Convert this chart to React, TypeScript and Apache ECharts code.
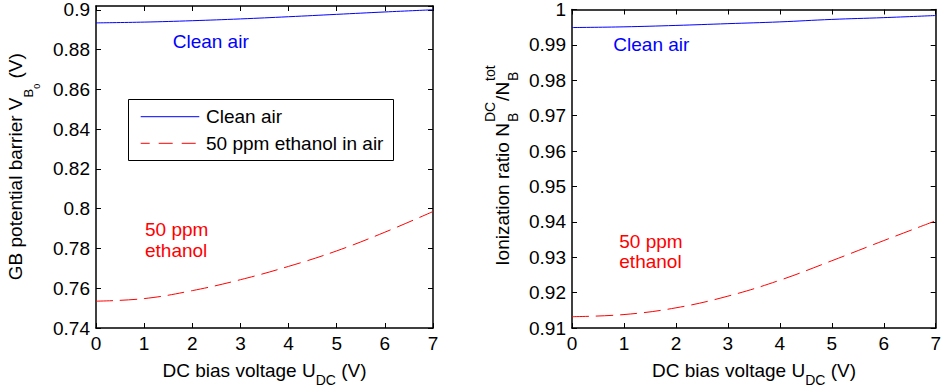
import React, { useEffect, useRef } from "react";
import * as echarts from "echarts";

const FONT = '"Liberation Sans", Arial, Helvetica, sans-serif';

const biasVoltage = [0, 1, 2, 3, 4, 5, 6, 7];
const barrierClean = [0.8935, 0.8939, 0.8946, 0.8955, 0.8966, 0.8978, 0.899, 0.9001];
const barrierEthanol = [0.7535, 0.7548, 0.7588, 0.7643, 0.771, 0.7788, 0.7882, 0.7986];
const ratioClean = [0.9949, 0.9951, 0.9955, 0.996, 0.9965, 0.9972, 0.9977, 0.9983];
const ratioEthanol = [0.9132, 0.9138, 0.9157, 0.919, 0.9235, 0.929, 0.9347, 0.9403];

const seriesNames = ["Clean air", "50 ppm ethanol in air"];
const xTicks = { min: 0, max: 7, interval: 1 };
const yLeftTicks = { min: 0.74, max: 0.902, interval: 0.02 };
const yRightTicks = { min: 0.91, max: 1, interval: 0.01 };

const BLUE = "#0000ff";
const RED = "#ff0000";

type Seg = { t: string; size: number; shift: number; stack?: boolean; gap?: number };

function makeLabel(
  ctx: CanvasRenderingContext2D,
  segs: Seg[],
  cx: number,
  cy: number,
  rotate: boolean,
  color = "#000"
) {
  const K = 0.31;
  let pos = 0;
  let lastStart = 0;
  const placed: { s: Seg; start: number }[] = [];
  for (const s of segs) {
    ctx.font = `${s.size}px ${FONT}`;
    const w = ctx.measureText(s.t).width;
    const start = s.stack ? lastStart : pos + (s.gap || 0);
    placed.push({ s, start });
    if (!s.stack) lastStart = start;
    pos = Math.max(pos, start + w);
  }
  const total = pos;
  return {
    type: "group",
    x: cx,
    y: cy,
    rotation: rotate ? Math.PI / 2 : 0,
    children: placed.map(({ s, start }) => ({
      type: "text",
      x: start - total / 2,
      y: s.shift - K * s.size,
      style: {
        text: s.t,
        font: `${s.size}px ${FONT}`,
        fill: color,
        textAlign: "left",
        align: "left",
        textVerticalAlign: "middle",
        verticalAlign: "middle",
      },
    })),
  };
}

function plainText(text: string, x: number, y: number, color: string) {
  return {
    type: "text",
    x,
    y,
    z: 10,
    style: {
      text,
      font: `19px ${FONT}`,
      fill: color,
      textAlign: "left",
      align: "left",
      textVerticalAlign: "middle",
      verticalAlign: "middle",
    },
  };
}

export default function App() {
  const ref = useRef<HTMLDivElement>(null);

  useEffect(() => {
    if (!ref.current) return;
    const chart = echarts.init(ref.current, undefined, { renderer: "svg" });
    const canvas = document.createElement("canvas");
    const ctx = canvas.getContext("2d") as CanvasRenderingContext2D;

    const axisBase = (showLabel: boolean, position: string, gridIndex: number, t: any) => ({
      type: "value",
      gridIndex,
      position,
      min: t.min,
      max: t.max,
      interval: t.interval,
      axisLine: { show: true, onZero: false, lineStyle: { color: "#000", width: 1.5 } },
      axisTick: { show: true, inside: true, length: 5, lineStyle: { color: "#000", width: 1 } },
      splitLine: { show: false },
      axisLabel: {
        show: showLabel,
        color: "#000",
        fontSize: 19,
        fontFamily: FONT,
        margin: 6,
        showMaxLabel: t.max === 0.902 ? false : true,
      },
    });

    const pairs = (ys: number[]) => biasVoltage.map((x, i) => [x, ys[i]]);
    const dashed = [17, 7];

    const xName: Seg[] = [
      { t: "DC bias voltage U", size: 19, shift: 0 },
      { t: "DC", size: 14, shift: 8 },
      { t: " (V)", size: 19, shift: 0 },
    ];

    const legendBox = {
      type: "rect",
      z: 10,
      shape: { x: 128.5, y: 99.5, width: 265, height: 61 },
      style: { fill: "#fff", stroke: "#000", lineWidth: 1 },
    };
    const legendLine = (y: number, color: string, dash: number[] | null) => ({
      type: "line",
      z: 10,
      shape: { x1: 140.7, y1: y, x2: 199.3, y2: y },
      style: dash
        ? { stroke: color, lineWidth: 1, lineDash: dash, lineDashOffset: 4.7 }
        : { stroke: color, lineWidth: 1 },
    });

    const graphic = [
      makeLabel(
        ctx,
        [
          { t: "GB potential barrier V", size: 19, shift: 0 },
          { t: "B", size: 13, shift: 12 },
          { t: "0", size: 9, shift: 19 },
          { t: " (V)", size: 19, shift: 0 },
        ],
        21,
        166.7,
        true
      ),
      makeLabel(
        ctx,
        [
          { t: "Ionization ratio N", size: 19, shift: 0 },
          { t: "B", size: 14, shift: 9, gap: 1 },
          { t: "DC", size: 14, shift: -14, stack: true },
          { t: "/N", size: 19, shift: 0, gap: 1 },
          { t: "B", size: 14, shift: 9, gap: 1 },
          { t: "tot", size: 14, shift: -14, stack: true },
        ],
        508,
        165.5,
        true
      ),
      makeLabel(ctx, xName, 264.5, 376, false),
      makeLabel(ctx, xName, 754, 376, false),
      plainText("Clean air", 172.7, 41.7, BLUE),
      plainText("Clean air", 613.3, 44.3, BLUE),
      plainText("50 ppm", 145, 229.3, RED),
      plainText("ethanol", 145, 250.7, RED),
      plainText("50 ppm", 619.3, 241.7, RED),
      plainText("ethanol", 619.3, 261.7, RED),
      legendBox,
      legendLine(116.7, BLUE, null),
      legendLine(143.3, RED, [14, 9]),
      plainText(seriesNames[0], 206, 116.7, "#000"),
      plainText(seriesNames[1], 206, 143.3, "#000"),
    ];

    chart.setOption({
      animation: false,
      backgroundColor: "#fff",
      textStyle: { fontFamily: FONT },
      grid: [
        { left: 96, top: 6, width: 337, height: 322 },
        { left: 572, top: 5, width: 364, height: 323 },
      ],
      xAxis: [
        axisBase(true, "bottom", 0, xTicks),
        axisBase(false, "top", 0, xTicks),
        axisBase(true, "bottom", 1, xTicks),
        axisBase(false, "top", 1, xTicks),
      ],
      yAxis: [
        axisBase(true, "left", 0, yLeftTicks),
        axisBase(false, "right", 0, yLeftTicks),
        axisBase(true, "left", 1, yRightTicks),
        axisBase(false, "right", 1, yRightTicks),
      ],
      series: [
        {
          name: seriesNames[0],
          type: "line",
          xAxisIndex: 0,
          yAxisIndex: 0,
          data: pairs(barrierClean),
          symbol: "none",
          smooth: 0.4,
          itemStyle: { color: BLUE },
          lineStyle: { color: BLUE, width: 1 },
        },
        {
          name: seriesNames[1],
          type: "line",
          xAxisIndex: 0,
          yAxisIndex: 0,
          data: pairs(barrierEthanol),
          symbol: "none",
          smooth: 0.4,
          itemStyle: { color: RED },
          lineStyle: { color: RED, width: 1, type: dashed },
        },
        {
          name: seriesNames[0],
          type: "line",
          xAxisIndex: 2,
          yAxisIndex: 2,
          data: pairs(ratioClean),
          symbol: "none",
          smooth: 0.4,
          itemStyle: { color: BLUE },
          lineStyle: { color: BLUE, width: 1 },
        },
        {
          name: seriesNames[1],
          type: "line",
          xAxisIndex: 2,
          yAxisIndex: 2,
          data: pairs(ratioEthanol),
          symbol: "none",
          smooth: 0.4,
          itemStyle: { color: RED },
          lineStyle: { color: RED, width: 1, type: dashed },
        },
      ],
      graphic,
    });

    return () => chart.dispose();
  }, []);

  return (
    <div
      ref={ref}
      style={{ position: "fixed", left: 0, top: 0, width: 944, height: 392, background: "#fff" }}
    />
  );
}
